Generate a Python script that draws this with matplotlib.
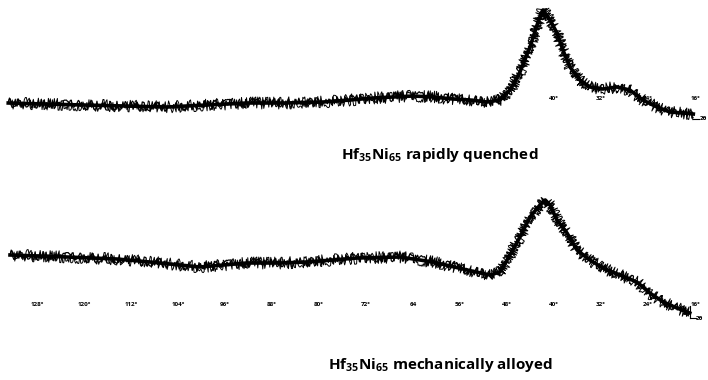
import matplotlib
matplotlib.use("Agg")
import matplotlib.pyplot as plt

# ---- data (2-theta in degrees, intensity in arbitrary units) ----
two_theta_rq = [132.9, 126.6, 120.2, 113.0, 105.9, 99.1, 92.3, 85.8, 79.3, 74.7, 70.8,
                67.4, 64.0, 60.6, 57.2, 54.3, 51.4, 49.2, 47.5, 45.8, 44.1, 42.9, 41.9,
                40.7, 39.5, 38.5, 37.3, 35.6, 33.9, 31.7, 29.3, 27.1, 24.9, 22.5, 20.3,
                18.0, 16.3]
intensity_rq = [17, 16, 15, 14, 13, 15, 17, 17, 18, 20, 22,
                23, 24, 23, 21, 20, 18, 20, 30, 48, 73, 95, 110,
                100, 87, 70, 53, 40, 33, 31, 33, 30, 20, 13, 8,
                7, 6]

two_theta_ma = [132.6, 122.9, 114.4, 108.8, 100.3, 92.3, 86.6, 82.0, 73.5, 66.2, 60.6,
                54.8, 50.9, 49.2, 48.0, 45.8, 44.1, 42.4, 41.5, 40.7, 39.5, 37.8, 36.1,
                33.9, 31.7, 28.8, 25.9, 23.7, 21.4, 19.1, 16.9]
intensity_ma = [75, 73, 71, 68, 63, 67, 67, 68, 72, 73, 68,
                60, 55, 58, 70, 93, 113, 125, 130, 125, 110, 97, 80,
                70, 62, 55, 48, 37, 28, 22, 17]

tick_values_ma = [128, 120, 112, 104, 96, 88, 80, 72, 64, 56, 48, 40, 32, 24, 16]
tick_labels_ma = ["128°", "120°", "112°", "104°", "96°", "88°", "80°", "72°", "64",
                  "56°", "48°", "40°", "32°", "24°", "16°"]
tick_values_rq = [48, 40, 32, 24, 16]
tick_labels_rq = ["48°", "40°", "32°", "24°", "16°"]

title_rq = r"$\mathregular{Hf_{35}Ni_{65}}$ rapidly quenched"
title_ma = r"$\mathregular{Hf_{35}Ni_{65}}$ mechanically alloyed"

plt.rcParams["font.family"] = ["Open Sans", "DejaVu Sans"]
plt.rcParams["mathtext.fontset"] = "custom"
plt.rcParams["mathtext.rm"] = "Open Sans:bold"

fig = plt.figure(figsize=(7.08, 3.80), dpi=100)
fig.patch.set_facecolor("white")

XLIM = (134.3, 13.8)

ax_top = fig.add_axes([0, 250 / 380, 1, 130 / 380])
ax_bot = fig.add_axes([0, 0, 1, 220 / 380])
ax_top.set_xlim(*XLIM)
ax_top.set_ylim(-10, 120)
ax_bot.set_xlim(*XLIM)
ax_bot.set_ylim(-50, 170)

for ax, xs, ys in [(ax_top, two_theta_rq, intensity_rq), (ax_bot, two_theta_ma, intensity_ma)]:
    ax.axis("off")
    base, = ax.plot(xs, ys, color="black", lw=2.6, zorder=3, solid_joinstyle="round")
    noisy, = ax.plot(xs, ys, color="black", lw=0.9, zorder=3)
    noisy.set_sketch_params(scale=4.5, length=0.6, randomness=2.0)
    noisy2, = ax.plot(xs, ys, color="black", lw=0.7, zorder=3)
    noisy2.set_sketch_params(scale=6.0, length=0.4, randomness=3.0)

# tick labels drawn as text along the 2-theta axis
for v, lab in zip(tick_values_ma, tick_labels_ma):
    ax_bot.text(v, 25, lab, fontsize=4.5, fontweight="bold", ha="center", va="center",
                color="black", zorder=2)
for v, lab in zip(tick_values_rq, tick_labels_rq):
    ax_top.text(v, 21, lab, fontsize=4.5, fontweight="bold", ha="center", va="center",
                color="black", zorder=2)

# end marker and 2-theta label
for ax, xs, ys, tick in [(ax_top, two_theta_rq, intensity_rq, False),
                         (ax_bot, two_theta_ma, intensity_ma, True)]:
    xe, ye = xs[-1], ys[-1]
    if tick:
        ax.plot([xe, xe], [ye - 5, ye + 7], color="black", lw=0.8)
    ax.plot([xe, xe - 1.0], [ye - 5, ye - 5], color="black", lw=0.8)
    ax.text(xe - 1.05, ye - 5, "2θ", fontsize=3.8, ha="left", va="center",
            family=["DejaVu Sans"], fontweight="bold")

ax_top.text(59.4, -35, title_rq, fontsize=11, fontweight="bold", ha="center", va="center",
            clip_on=False)
ax_bot.text(59.4, -35, title_ma, fontsize=11, fontweight="bold", ha="center", va="center",
            clip_on=False)

fig.savefig("out.png", dpi=100, facecolor="white")
